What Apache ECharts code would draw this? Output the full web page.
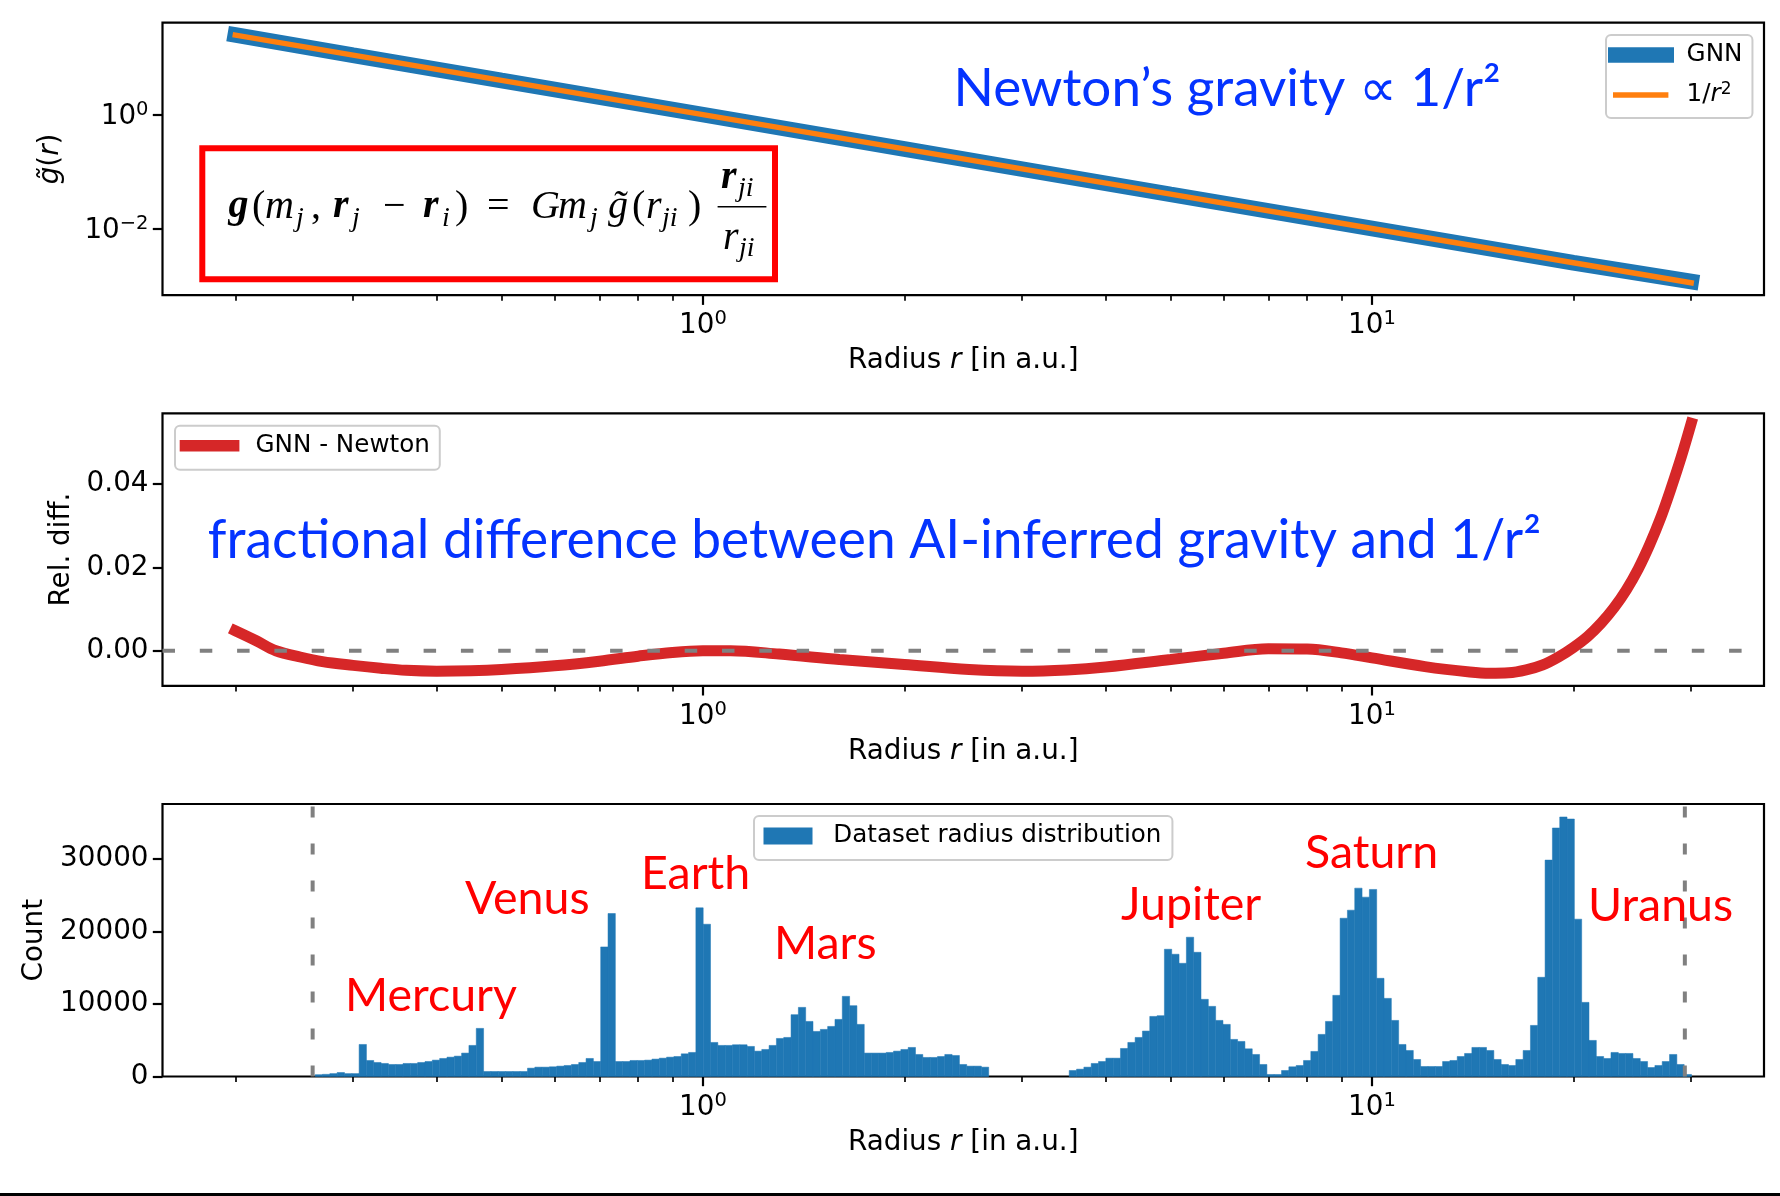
<!DOCTYPE html>
<html>
<head>
<meta charset="utf-8">
<script src="https://cdn.jsdelivr.net/npm/echarts@6/dist/echarts.min.js"></script>
<style>
html, body { margin: 0; padding: 0; background: #fff; }
#chart { width: 1780px; height: 1196px; }
</style>
</head>
<body>
<div id="chart"></div>
<script>
// ---- data ----
// top panel: g~(r) of the GNN and of Newton (log-log straight line)
const gravityR = [0.2, 0.3, 0.5, 1, 2, 3, 5, 10, 20, 30];
const newtonG = [25, 11.11, 4, 1, 0.25, 0.1111, 0.04, 0.01, 0.0025, 0.00111];
const gnnG = [25.12, 11.07, 3.98, 1.0, 0.2492, 0.1106, 0.0398, 0.00998, 0.00250, 0.00117];

// middle panel: relative difference GNN - Newton
const diffR = [0.2, 0.215, 0.23, 0.25, 0.27, 0.3, 0.33, 0.36, 0.4, 0.45, 0.5, 0.6, 0.7, 0.8, 0.9, 1.0,
  1.1, 1.3, 1.6, 2.0, 2.5, 3.0, 3.5, 4, 5, 6, 7, 8, 9, 10, 12, 14, 15, 16, 17, 18, 19, 20,
  21, 22, 23, 24, 25, 26, 27, 28, 29, 30];
const diffVal = [0.0048, 0.0024, 0.0000, -0.0015, -0.0026, -0.0035, -0.0042, -0.0047, -0.0049, -0.0048,
  -0.0045, -0.0036, -0.0025, -0.0013, -0.0004, 0.0000, 0.0000, -0.0008, -0.0021, -0.0033, -0.0045,
  -0.0049, -0.0046, -0.0039, -0.0021, -0.0006, 0.0005, 0.0004, -0.0005, -0.0017, -0.0038, -0.0051,
  -0.0054, -0.0053, -0.0046, -0.0034, -0.0015, 0.0008, 0.0034, 0.0066, 0.0103, 0.0146, 0.0196,
  0.0254, 0.0318, 0.0390, 0.0465, 0.0545];

// bottom panel: histogram of dataset radii, log-spaced bins over histRange
const histRange = [0.2633, 30.03];
const histCounts = [
  250, 300, 400, 550, 400, 400, 4420, 2210, 1935, 1800, 1660, 1660, 1800, 1800, 1935, 2070,
  2260, 2490, 2670, 2810, 3230, 4290, 6640, 690, 690, 690, 690, 690, 690, 1150, 1290, 1290,
  1340, 1430, 1520, 1660, 1935, 2490, 2070, 17880, 22490, 2070, 2070, 2210, 2210, 2260, 2400,
  2530, 2670, 2760, 3130, 3320, 23270, 21010, 4700, 4290, 4290, 4380, 4380, 4150, 3500, 3730,
  4290, 5250, 5390, 8530, 9540, 7600, 6220, 6500, 6910, 7880, 11060, 9770, 7190, 3230, 3230,
  3230, 3320, 3500, 3730, 4010, 3040, 2630, 2630, 2760, 3040, 2900, 1660, 1430, 1430, 1290,
  0, 0, 0, 0, 0, 0, 0, 0, 0, 0, 0,
  830, 1010, 1290, 1800, 2070, 2530, 2530, 3870, 4700, 5390, 6270, 8290, 8390, 17560, 16870,
  15620, 19220, 17140, 10650, 9680, 7740, 7190, 5120, 4840, 3820, 3040, 1660, 280, 280, 830,
  1340, 1520, 2210, 3460, 5810, 7600, 11200, 21840, 22950, 25990, 24750, 25810, 13550, 10780,
  7740, 4420, 3590, 2350, 1380, 1380, 1380, 2070, 2210, 2760, 3180, 4010, 4010, 3590, 2350,
  1660, 1520, 2350, 3590, 7050, 13690, 29860, 34290, 35810, 35530, 21710, 10230, 4980, 2760,
  2490, 3320, 3180, 3180, 2490, 2070, 1240, 1520, 2070, 3040, 1660, 280];
// radius limits of the dataset (dashed lines)
const dataLimits = [0.261, 29.35];

const planetNames = ['Mercury', 'Venus', 'Earth', 'Mars', 'Jupiter', 'Saturn', 'Uranus'];
const xMajorTicks = [0, 1];
const xMinorTicks = [0.2, 0.3, 0.4, 0.5, 0.6, 0.7, 0.8, 0.9, 2, 3, 4, 5, 6, 7, 8, 9, 20, 30];
const gTicks = [-2, 0];
const diffTicks = [0, 0.02, 0.04];
const countTicks = [0, 10000, 20000, 30000];

// ---- helpers ----
const lg = Math.log10;
// matplotlib-like 5% margins on the log x range
const xLo = lg(0.2), xHi = lg(30), xPad = (xHi - xLo) * 0.05;
const xMin = xLo - xPad, xMax = xHi + xPad;
const gLo = lg(Math.min(...newtonG)), gHi = lg(Math.max(...newtonG)), gPad = (gHi - gLo) * 0.05;

const FONT = 'DejaVu Sans';
const BLACK = '#000';
const tickRich = {
  b: { fontFamily: FONT, fontSize: 27.8, lineHeight: 34, color: BLACK },
  s: { fontFamily: FONT, fontSize: 19.5, lineHeight: 20, verticalAlign: 'top', color: BLACK }
};
const nameRich = {
  n: { fontFamily: FONT, fontSize: 27.8, lineHeight: 34, color: BLACK },
  i: { fontFamily: FONT, fontSize: 27.8, lineHeight: 34, fontStyle: 'italic', color: BLACK }
};
const plainLabel = { fontFamily: FONT, fontSize: 27.8, color: BLACK };

const grids = [22.7, 413.3, 804].map(function (top) {
  return {
    left: 162.5, width: 1601.5, top: top, height: 272.5,
    show: true, borderColor: BLACK, borderWidth: 2.2, backgroundColor: 'transparent',
    outerBoundsMode: 'none'
  };
});

function xMajor(gi) {
  return {
    type: 'value', gridIndex: gi, min: xMin, max: xMax, position: 'bottom',
    axisLine: { show: false, onZero: false }, splitLine: { show: false },
    axisTick: { show: true, customValues: xMajorTicks, length: 9.7, lineStyle: { color: BLACK, width: 2.2 } },
    axisLabel: {
      show: true, customValues: xMajorTicks, margin: 14,
      formatter: function (v) { return '{b|10}{s|' + Math.round(v) + '}'; }, rich: tickRich
    },
    name: '{n|Radius }{i|r}{n| [in a.u.]}', nameLocation: 'middle', nameGap: 49,
    nameTextStyle: { rich: nameRich }
  };
}
function xMinor(gi) {
  return {
    type: 'value', gridIndex: gi, min: xMin, max: xMax, position: 'bottom',
    axisLine: { show: false, onZero: false }, splitLine: { show: false }, axisLabel: { show: false },
    axisTick: { show: true, customValues: xMinorTicks.map(lg), length: 5.6, lineStyle: { color: BLACK, width: 1.67 } }
  };
}
function yBase(gi, ticks, fmt, rich) {
  return {
    type: 'value', gridIndex: gi, position: 'left',
    axisLine: { show: false, onZero: false }, splitLine: { show: false },
    axisTick: { show: true, customValues: ticks, length: 9.7, lineStyle: { color: BLACK, width: 2.2 } },
    axisLabel: Object.assign({ show: true, customValues: ticks, margin: 14, formatter: fmt, padding: [5, 0, 0, 0] },
      rich ? { rich: rich } : plainLabel),
    nameLocation: 'middle', nameRotate: 90
  };
}

const yTop = Object.assign(yBase(0, gTicks, function (v) {
  return '{b|10}{s|' + (v < 0 ? '\u2212' + Math.round(-v) : Math.round(v)) + '}';
}, tickRich), {
  min: gLo - gPad, max: gHi + gPad,
  name: '{i|g\u0303}{n|(}{i|r}{n|)}', nameGap: 95, nameTextStyle: { rich: nameRich }
});
const yMid = Object.assign(yBase(1, diffTicks, function (v) { return v.toFixed(2); }), {
  min: -0.0084, max: 0.0569,
  name: 'Rel. diff.', nameGap: 82, nameTextStyle: plainLabel
});
const yBot = Object.assign(yBase(2, countTicks, function (v) { return String(Math.round(v)); }), {
  min: 0, max: Math.max(...histCounts) * 1.05,
  name: 'Count', nameGap: 111, nameTextStyle: plainLabel
});

// histogram bins (log-spaced edges)
const hLo = lg(histRange[0]), hHi = lg(histRange[1]);
const hStep = (hHi - hLo) / histCounts.length;
const histData = histCounts.map(function (c, k) { return [hLo + k * hStep, hLo + (k + 1) * hStep, c]; });

function legendText(padLeft) {
  return { fontFamily: FONT, fontSize: 24.6, color: BLACK, lineHeight: 28, padding: [0, 0, 0, padLeft] };
}
const legendBox = {
  backgroundColor: 'rgba(255,255,255,0.8)', borderColor: '#cccccc', borderWidth: 2, borderRadius: 5,
  orient: 'vertical', selectedMode: false
};

// annotation layout (pixels)
const planetPos = [[345, 996], [465, 899], [641, 874], [774, 944], [1121, 905], [1305, 853], [1588, 906]];
const ANNO_FONT = 'Lato';

// formula pieces: text, style, left x, centre y
const fm = { main: 40, sub: 28, fam: 'Liberation Serif' };
const formulaPieces = [
  ['g', 'bi', 228.5, 207], ['(', 'n', 252, 207], ['m', 'i', 265, 207], ['j', 'si', 296, 219],
  [',', 'n', 311, 207], ['r', 'bi', 333, 207], ['j', 'si', 352, 219], ['\u2212', 'n', 383, 207],
  ['r', 'bi', 423, 207], ['i', 'si', 442, 219], [')', 'n', 455, 207], ['=', 'n', 487, 207],
  ['G', 'i', 531, 207], ['m', 'i', 558, 207], ['j', 'si', 590, 219], ['g\u0303', 'i', 608, 207],
  ['(', 'n', 632, 207], ['r', 'i', 646, 207], ['ji', 'si', 662, 219], [')', 'n', 688, 207],
  ['r', 'bi', 721, 178], ['ji', 'si', 738, 189], ['r', 'i', 723, 238], ['ji', 'si', 739, 249]
];
function formulaStyle(kind) {
  const sub = kind === 'si';
  return {
    fontFamily: fm.fam, fontSize: sub ? fm.sub : fm.main,
    fontStyle: kind === 'n' ? 'normal' : 'italic', fontWeight: kind === 'bi' ? 'bold' : 'normal',
    fill: BLACK, verticalAlign: 'middle'
  };
}

const graphics = [
  { type: 'rect', shape: { x: 202.3, y: 148.3, width: 572.7, height: 131 }, style: { fill: 'none', stroke: '#ff0000', lineWidth: 6 }, z: 10 },
  { type: 'line', z: 10, shape: { x1: 717.6, y1: 206.7, x2: 766.4, y2: 206.7 }, style: { stroke: BLACK, lineWidth: 1.6 } },
  { type: 'text', x: 953.5, y: 89, z: 10, style: { text: 'Newton\u2019s gravity \u221d 1/r\u00b2', fontFamily: ANNO_FONT, fontSize: 53, fill: '#0433ff', verticalAlign: 'middle' } },
  { type: 'text', x: 207.8, y: 541, z: 10, style: { text: 'fractional difference between AI-inferred gravity and 1/r\u00b2', fontFamily: ANNO_FONT, fontSize: 53.3, fill: '#0433ff', verticalAlign: 'middle' } },
  { type: 'rect', shape: { x: 0, y: 1193, width: 1780, height: 3 }, style: { fill: BLACK } }
];
formulaPieces.forEach(function (p) {
  graphics.push({ type: 'text', x: p[2], y: p[3], z: 10, style: Object.assign({ text: p[0] }, formulaStyle(p[1])) });
});
planetNames.forEach(function (p, i) {
  graphics.push({ type: 'text', x: planetPos[i][0], y: planetPos[i][1], z: 10,
    style: { text: p, fontFamily: ANNO_FONT, fontSize: 46.5, fill: '#ff0000', verticalAlign: 'middle' } });
});

const chart = echarts.init(document.getElementById('chart'), null, { renderer: 'canvas' });
chart.setOption({
  animation: false,
  backgroundColor: '#fff',
  grid: grids,
  xAxis: [xMajor(0), xMinor(0), xMajor(1), xMinor(1), xMajor(2), xMinor(2)],
  yAxis: [yTop, yMid, yBot],
  legend: [
    // top legend: box drawn by the first one, second row overlaid without box
    Object.assign({}, legendBox, {
      left: 1606, top: 35, padding: [6, 10, 49, 2], itemWidth: 66, itemHeight: 15.6,
      textStyle: legendText(7.6), z: 4,
      data: [{ name: 'GNN', icon: 'rect' }]
    }),
    {
      left: 1613, top: 81, padding: 0, orient: 'vertical', selectedMode: false, z: 5,
      itemWidth: 55.4, itemHeight: 5.4,
      data: [{ name: '1/r2', icon: 'rect' }],
      formatter: function () { return '{n|1/}{i|r}{s|2}'; },
      textStyle: Object.assign(legendText(13.2), { rich: {
        n: { fontFamily: FONT, fontSize: 24.6, color: BLACK, lineHeight: 28 },
        i: { fontFamily: FONT, fontSize: 24.6, fontStyle: 'italic', color: BLACK, lineHeight: 28 },
        s: { fontFamily: FONT, fontSize: 17, color: BLACK, lineHeight: 18, verticalAlign: 'top' }
      } })
    },
    Object.assign({}, legendBox, {
      left: 175, top: 425.7, padding: [6, 10, 10, 4.7], itemWidth: 59.7, itemHeight: 11.5,
      textStyle: legendText(11.1),
      data: [{ name: 'GNN - Newton', icon: 'rect' }]
    }),
    Object.assign({}, legendBox, {
      left: 754, top: 816, padding: [6, 11, 10, 9.5], itemWidth: 49, itemHeight: 17,
      textStyle: legendText(15.8),
      data: [{ name: 'Dataset radius distribution', icon: 'rect' }]
    })
  ],
  graphic: graphics,
  series: [
    {
      name: 'GNN', type: 'line', xAxisIndex: 0, yAxisIndex: 0, symbol: 'none', z: 3,
      lineStyle: { color: '#1f77b4', width: 15.6, cap: 'square' }, itemStyle: { color: '#1f77b4' },
      data: gravityR.map(function (r, i) { return [lg(r), lg(gnnG[i])]; })
    },
    {
      name: '1/r2', type: 'line', xAxisIndex: 0, yAxisIndex: 0, symbol: 'none', z: 4,
      lineStyle: { color: '#ff7f0e', width: 5.4, cap: 'square' }, itemStyle: { color: '#ff7f0e' },
      data: gravityR.map(function (r, i) { return [lg(r), lg(newtonG[i])]; })
    },
    {
      name: 'GNN - Newton', type: 'line', xAxisIndex: 2, yAxisIndex: 1, symbol: 'none', smooth: 0.35, z: 3,
      lineStyle: { color: '#d62728', width: 11, cap: 'square' }, itemStyle: { color: '#d62728' },
      data: diffR.map(function (r, i) { return [lg(r), diffVal[i]]; })
    },
    {
      name: 'zero', type: 'line', xAxisIndex: 2, yAxisIndex: 1, symbol: 'none', z: 5, silent: true,
      lineStyle: { color: '#808080', width: 4, type: [12.5, 24.8] },
      data: [[xMin, 0], [xMax, 0]]
    },
    {
      name: 'Dataset radius distribution', type: 'custom', xAxisIndex: 4, yAxisIndex: 2, z: 3,
      itemStyle: { color: '#1f77b4' },
      encode: { x: [0, 1], y: 2 },
      renderItem: function (params, api) {
        if (!(api.value(2) > 0)) return null;
        const p0 = api.coord([api.value(0), api.value(2)]);
        const p1 = api.coord([api.value(1), 0]);
        return { type: 'rect', shape: { x: p0[0], y: p0[1], width: p1[0] - p0[0], height: p1[1] - p0[1] },
          style: { fill: '#1f77b4', stroke: '#1f77b4', lineWidth: 0.5 } };
      },
      data: histData
    },
    {
      name: 'limLo', type: 'line', xAxisIndex: 4, yAxisIndex: 2, symbol: 'none', z: 5, silent: true,
      lineStyle: { color: '#808080', width: 4, type: [11, 26] },
      data: [[lg(dataLimits[0]), 0], [lg(dataLimits[0]), Math.max(...histCounts) * 1.05]]
    },
    {
      name: 'limHi', type: 'line', xAxisIndex: 4, yAxisIndex: 2, symbol: 'none', z: 5, silent: true,
      lineStyle: { color: '#808080', width: 4, type: [11, 26] },
      data: [[lg(dataLimits[1]), 0], [lg(dataLimits[1]), Math.max(...histCounts) * 1.05]]
    }
  ]
});
</script>
</body>
</html>
